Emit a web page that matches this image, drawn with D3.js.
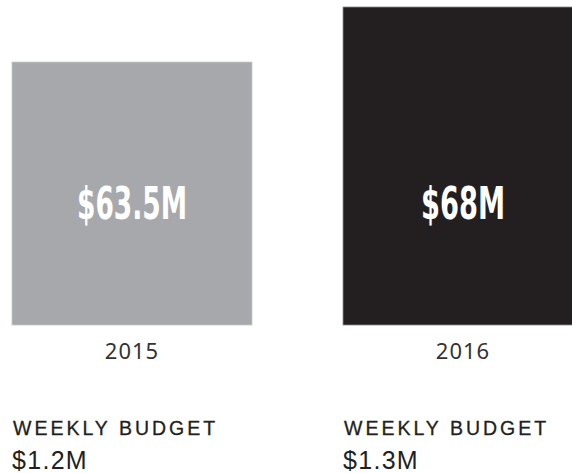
<!DOCTYPE html>
<html>
<head>
<meta charset="utf-8">
<script src="https://cdn.jsdelivr.net/npm/d3@7"></script>
<style>
  body { margin: 0; background: #fff; }
  svg { display: block; }
</style>
</head>
<body>
<div id="container"></div>
<script>
// data
const years = [ '2015', '2016' ];
const totals = [ 63.5, 68 ];          // $M, printed inside the bars
const weekly = [ 1.2, 1.3 ];          // $M weekly budget
const colors = [ '#a7a8ab', '#231f20' ];
const weeklyTitle = 'WEEKLY BUDGET';

const W = 572, H = 473;
const data = years.map( ( y, i ) => ( { year: y, total: totals[ i ], weekly: weekly[ i ], color: colors[ i ] } ) );

//_____ SCALES _____
const xScale = d3.scaleBand()
  .domain( years )
  .range( [ 12, 583 ] )
  .paddingInner( 0.275 )
  .paddingOuter( 0 );

// bars are drawn from a raised baseline in the original
const yScale = d3.scaleLinear()
  .domain( [ 42, d3.max( totals ) ] )
  .range( [ 325, 7 ] );

const svg = d3.select( '#container' )
  .append( 'svg' )
  .attr( 'width', W )
  .attr( 'height', H );

//_____ BARS _____
svg.selectAll( '.bar' )
  .data( data )
  .enter()
  .append( 'rect' )
  .attr( 'class', 'bar' )
  .attr( 'x', d => xScale( d.year ) )
  .attr( 'y', d => yScale( d.total ) )
  .attr( 'width', xScale.bandwidth() )
  .attr( 'height', d => yScale.range()[ 0 ] - yScale( d.total ) )
  .attr( 'fill', d => d.color )
  .attr( 'stroke', ( d, i ) => i === 0 ? '#c4c5c8' : '#8a8a8c' )
  .attr( 'stroke-width', 0.8 );

//_____ VALUE LABELS (condensed) _____
const labelWidth = { 4: 84, 6: 110 };
svg.selectAll( '.value' )
  .data( data )
  .enter()
  .append( 'text' )
  .attr( 'class', 'value' )
  .attr( 'x', d => xScale( d.year ) + xScale.bandwidth() / 2 )
  .attr( 'y', 219 )
  .attr( 'text-anchor', 'middle' )
  .attr( 'textLength', d => labelWidth[ `$${d.total}M`.length ] || 100 )
  .attr( 'lengthAdjust', 'spacingAndGlyphs' )
  .style( 'font-family', '"DejaVu Sans Condensed", "DejaVu Sans", sans-serif' )
  .style( 'font-weight', 'bold' )
  .style( 'font-size', '45px' )
  .style( 'fill', '#ffffff' )
  .text( d => `$${d.total}M` );

//_____ YEAR LABELS _____
svg.selectAll( '.year' )
  .data( data )
  .enter()
  .append( 'text' )
  .attr( 'class', 'year' )
  .attr( 'x', d => xScale( d.year ) + xScale.bandwidth() / 2 )
  .attr( 'y', 359 )
  .attr( 'text-anchor', 'middle' )
  .style( 'font-family', '"Noto Sans", sans-serif' )
  .style( 'font-size', '22px' )
  .style( 'letter-spacing', '1px' )
  .style( 'fill', '#333333' )
  .text( d => d.year );

//_____ WEEKLY BUDGET _____
svg.selectAll( '.weekly-title' )
  .data( data )
  .enter()
  .append( 'text' )
  .attr( 'class', 'weekly-title' )
  .attr( 'x', d => xScale( d.year ) + 1 )
  .attr( 'y', 435 )
  .style( 'font-family', '"Liberation Sans", Arial, sans-serif' )
  .style( 'font-size', '19.5px' )
  .style( 'letter-spacing', '3px' )
  .style( 'stroke', '#231f20' )
  .style( 'stroke-width', 0.3 )
  .style( 'fill', '#231f20' )
  .text( weeklyTitle );

svg.selectAll( '.weekly-value' )
  .data( data )
  .enter()
  .append( 'text' )
  .attr( 'class', 'weekly-value' )
  .attr( 'x', d => xScale( d.year ) )
  .attr( 'y', 469 )
  .style( 'font-family', '"Liberation Sans", Arial, sans-serif' )
  .style( 'font-size', '25px' )
  .style( 'letter-spacing', '1.3px' )
  .style( 'fill', '#231f20' )
  .text( d => `$${d.weekly}M` );
</script>
</body>
</html>
